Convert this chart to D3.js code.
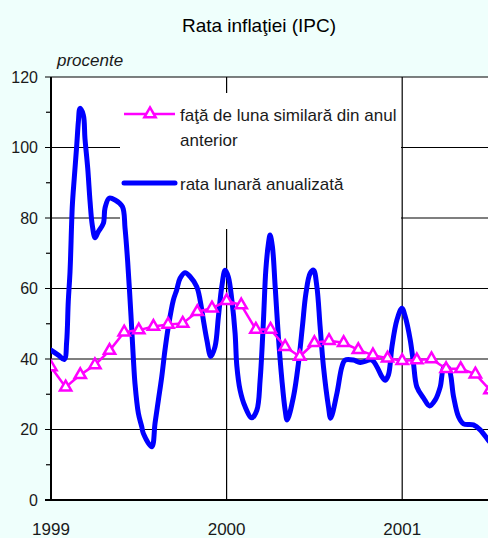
<!DOCTYPE html>
<html>
<head>
<meta charset="utf-8">
<script src="https://cdn.jsdelivr.net/npm/d3@7"></script>
<style>
  html, body { margin: 0; padding: 0; background: #effffc; }
  svg { display: block; font-family: "Liberation Sans", Arial, sans-serif; }
</style>
</head>
<body>
<div id="chart"></div>
<script>
// luni de la ianuarie 1999 (0 = ian 1999)
const yearLabels = ['1999', '2000', '2001'];
const yearMonths = [0, 12, 24];
const yTicks = [0, 20, 40, 60, 80, 100, 120];
const yMinor = [10, 30, 50, 70, 90, 110];

// fata de luna similara din anul anterior (lunar)
const annualMonths = d3.range(0, 31);
const annualValues = [37.7, 32.0, 35.5, 38.3, 42.4, 47.6, 48.2, 49.2, 49.8, 50.1,
  53.4, 54.4, 56.5, 55.3, 48.4, 48.4, 43.5, 40.7, 44.6, 45.2,
  44.6, 42.6, 41.1, 40.2, 39.5, 39.7, 40.0, 37.2, 37.2, 35.7, 31.2];

// rata lunara anualizata (curba neteda, citita des)
const monthlyT = [0, 0.5, 0.91, 1.07, 1.18, 1.30, 1.46, 1.59, 1.76, 1.87,
  1.98, 2.21, 2.32, 2.51, 2.67, 2.82, 3.01, 3.23, 3.58, 3.69,
  3.97, 4.38, 4.88, 5.06, 5.24, 5.47, 5.63, 5.74, 5.97, 6.20,
  6.31, 6.89, 7.11, 7.34, 7.57, 7.79, 8.02, 8.36, 8.59, 8.82,
  9.16, 9.50, 9.96, 10.19, 10.41, 10.65, 10.92, 11.21, 11.44, 11.67,
  11.90, 12.12, 12.36, 12.58, 12.70, 12.92, 13.26, 13.72, 14.07, 14.29,
  14.52, 14.68, 14.86, 14.97, 15.13, 15.32, 15.54, 15.78, 16.0, 16.14,
  16.57, 16.91, 17.18, 17.42, 17.71, 17.94, 18.17, 18.39, 18.62, 18.96,
  19.11, 19.54, 19.88, 20.10, 20.67, 21.13, 21.93, 22.27, 22.61, 22.84,
  23.06, 23.30, 23.64, 23.98, 24.21, 24.55, 24.77, 25.00, 25.46, 25.87,
  26.26, 26.60, 26.87, 27.17, 27.51, 27.85, 28.19, 28.87, 29.33, 29.88, 30.36];
const monthlyValues = [42.5, 41.1, 39.9, 44.9, 56.3, 64.8, 83.7, 91.3, 100.7, 107.3,
  111.1, 109.2, 102.6, 94.1, 84.6, 78.0, 74.4, 76.1, 78.5, 82.8,
  85.6, 85.1, 83.2, 77.1, 67.6, 52.0, 40.0, 33.0, 24.6, 20.8,
  18.9, 15.1, 21.8, 28.4, 35.0, 42.6, 49.2, 56.7, 59.6, 62.9,
  64.5, 63.4, 60.5, 56.7, 51.1, 45.4, 40.7, 43.5, 52.0, 60.5,
  65.2, 63.3, 56.7, 47.3, 38.0, 31.2, 26.5, 23.3, 25.5, 34.0,
  51.1, 65.2, 72.8, 75.2, 71.9, 60.5, 46.3, 34.0, 25.5, 22.7,
  29.3, 38.8, 49.2, 58.6, 64.3, 65.2, 60.5, 49.2, 37.8, 26.5,
  23.2, 30.3, 37.8, 39.7, 39.7, 39.0, 39.7, 37.8, 35.0, 34.0,
  35.5, 43.5, 51.1, 54.4, 52.0, 45.4, 38.8, 32.1, 28.9, 26.7,
  28.4, 32.1, 37.8, 37.4, 29.3, 23.6, 21.6, 21.3, 19.9, 17.0, 14.5];

const W = 488, H = 538;
const plot = {left: 51, top: 77, right: 490, bottom: 500};

let svg = d3.select('#chart').append('svg')
  .attr('width', W)
  .attr('height', H);

let x = d3.scaleLinear().domain([0, 30]).range([plot.left, plot.right]);
let y = d3.scaleLinear().domain([0, 120]).range([plot.bottom, plot.top]);

svg.append('defs').append('clipPath').attr('id', 'clip')
  .append('rect')
    .attr('x', plot.left).attr('y', plot.top - 10)
    .attr('width', plot.right - plot.left).attr('height', plot.bottom - plot.top + 10);

// plot area
svg.append('rect')
  .attr('x', plot.left).attr('y', plot.top)
  .attr('width', W - plot.left).attr('height', plot.bottom - plot.top)
  .attr('fill', 'white');

// horizontal grid + major ticks
svg.append('g').selectAll('line').data(yTicks.slice(1)).join('line')
  .attr('x1', plot.left - 6).attr('x2', W)
  .attr('y1', d => y(d)).attr('y2', d => y(d))
  .attr('stroke', '#000').attr('stroke-width', 1.2);

svg.append('g').selectAll('line').data(yMinor).join('line')
  .attr('x1', plot.left - 5).attr('x2', plot.left)
  .attr('y1', d => y(d)).attr('y2', d => y(d))
  .attr('stroke', '#000').attr('stroke-width', 1.2);

// vertical grid at years
svg.append('g').selectAll('line').data(yearMonths.slice(1)).join('line')
  .attr('x1', d => x(d)).attr('x2', d => x(d))
  .attr('y1', plot.top).attr('y2', plot.bottom)
  .attr('stroke', '#000').attr('stroke-width', 1.2);

// axes
svg.append('line')
  .attr('x1', plot.left).attr('x2', plot.left)
  .attr('y1', plot.top).attr('y2', plot.bottom + 1)
  .attr('stroke', '#000').attr('stroke-width', 2);
svg.append('line')
  .attr('x1', plot.left - 6).attr('x2', W)
  .attr('y1', plot.bottom).attr('y2', plot.bottom)
  .attr('stroke', '#000').attr('stroke-width', 2);

// y labels
svg.append('g').selectAll('text').data(yTicks).join('text')
  .attr('x', plot.left - 13)
  .attr('y', d => y(d))
  .attr('dy', '0.35em')
  .attr('text-anchor', 'end')
  .attr('font-size', 16)
  .attr('fill', '#1a1a1a')
  .text(d => d);

// x labels
svg.append('g').selectAll('text').data(yearLabels).join('text')
  .attr('x', (d, i) => x(yearMonths[i]))
  .attr('y', 535)
  .attr('text-anchor', 'middle')
  .attr('font-size', 17)
  .attr('fill', '#1a1a1a')
  .text(d => d);

// title & unit
svg.append('text')
  .attr('x', 259).attr('y', 32)
  .attr('text-anchor', 'middle')
  .attr('font-size', 19)
  .attr('fill', '#000')
  .text('Rata inflaţiei (IPC)');

svg.append('text')
  .attr('x', 57).attr('y', 66)
  .attr('font-size', 17)
  .attr('font-style', 'italic')
  .attr('fill', '#1a1a1a')
  .text('procente');

// legend box (white, no border) - hides grid underneath
svg.append('rect')
  .attr('x', 120).attr('y', 93)
  .attr('width', 281).attr('height', 136)
  .attr('fill', 'white');

let g = svg.append('g').attr('clip-path', 'url(#clip)');

let blueLine = d3.line()
  .x(d => x(d[0]))
  .y(d => y(d[1]))
  .curve(d3.curveCatmullRom.alpha(0.5));

g.append('path')
  .datum(d3.zip(monthlyT, monthlyValues))
  .attr('fill', 'none')
  .attr('stroke', '#0000ff')
  .attr('stroke-width', 5)
  .attr('stroke-linejoin', 'round')
  .attr('stroke-linecap', 'round')
  .attr('d', blueLine);

let pinkLine = d3.line()
  .x(d => x(d[0]))
  .y(d => y(d[1]));

let annual = d3.zip(annualMonths, annualValues);

g.append('path')
  .datum(annual)
  .attr('fill', 'none')
  .attr('stroke', '#ff00ff')
  .attr('stroke-width', 2.5)
  .attr('d', pinkLine);

let tri = d3.symbol().type(d3.symbolTriangle).size(55);

g.append('g').selectAll('path').data(annual).join('path')
  .attr('transform', d => `translate(${x(d[0])},${y(d[1])})`)
  .attr('d', tri)
  .attr('fill', 'white')
  .attr('stroke', '#ff00ff')
  .attr('stroke-width', 2.5);

// legend entries
let leg = svg.append('g');
leg.append('line')
  .attr('x1', 124).attr('x2', 175).attr('y1', 114).attr('y2', 114)
  .attr('stroke', '#ff00ff').attr('stroke-width', 2.5);
leg.append('path')
  .attr('transform', 'translate(150,114)')
  .attr('d', tri)
  .attr('fill', 'white')
  .attr('stroke', '#ff00ff')
  .attr('stroke-width', 2.5);
leg.append('text')
  .attr('x', 180).attr('y', 121)
  .attr('font-size', 17).attr('fill', '#1a1a1a')
  .text('faţă de luna similară din anul');
leg.append('text')
  .attr('x', 180).attr('y', 146)
  .attr('font-size', 17).attr('fill', '#1a1a1a')
  .text('anterior');

leg.append('line')
  .attr('x1', 124).attr('x2', 175).attr('y1', 183).attr('y2', 183)
  .attr('stroke', '#0000ff').attr('stroke-width', 5)
  .attr('stroke-linecap', 'round');
leg.append('text')
  .attr('x', 180).attr('y', 190)
  .attr('font-size', 17).attr('fill', '#1a1a1a')
  .text('rata lunară anualizată');
</script>
</body>
</html>
